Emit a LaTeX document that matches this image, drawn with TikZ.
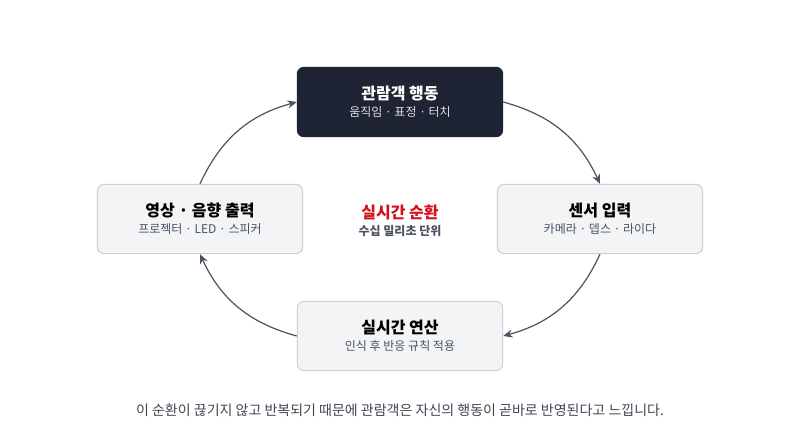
\documentclass[tikz,border=0pt]{standalone}
\usepackage{fontspec}
\setmainfont{Noto Sans CJK KR}
\usetikzlibrary{arrows.meta}
\definecolor{navy}{HTML}{1E2433}
\definecolor{panel}{HTML}{F3F4F6}
\definecolor{rim}{HTML}{CDD1D8}
\definecolor{pfeil}{HTML}{4B5262}
\definecolor{hot}{HTML}{D0101B}
\newcommand{\titel}{\fontsize{12}{14}\selectfont\bfseries}
\newcommand{\unter}{\fontsize{9}{11}\selectfont}
\begin{document}
\begin{tikzpicture}[x=0.75pt, y=-0.75pt
		, stufe/.style={rectangle, rounded corners=5pt, minimum width=154pt, minimum height=52pt, draw=rim, fill=panel, align=center, line width=0.8pt}
		, dunkel/.style={stufe, draw=navy, fill=navy, text=white}
		, pfeilspitze/.style={draw=pfeil, line width=0.9pt, -{Stealth[length=7pt,width=6pt]}}
		]
	\useasboundingbox (0,0) rectangle (800,443);
	\node (Aktion) [dunkel] at (400,102) {{\titel 관람객 행동}\\[1pt]{\unter\color{white!85!navy} 움직임 · 표정 · 터치}};
	\node (Eingang) [stufe] at (600,219) {{\titel 센서 입력}\\[1pt]{\unter\color{pfeil} 카메라 · 뎁스 · 라이다}};
	\node (Rechnen) [stufe] at (400,336) {{\titel 실시간 연산}\\[1pt]{\unter\color{pfeil} 인식 후 반응 규칙 적용}};
	\node (Ausgang) [stufe] at (200,219) {{\titel 영상 · 음향 출력}\\[1pt]{\unter\color{pfeil} 프로젝터 · LED · 스피커}};
	\node (Mitte) [align=center] at (400,221) {{\titel\color{hot} 실시간 순환}\\[1pt]{\unter\bfseries\color{pfeil} 수십 밀리초 단위}};
	\node (Fazit) [font=\fontsize{10.5}{12}\selectfont, text=navy!85] at (400,410) {이 순환이 끊기지 않고 반복되기 때문에 관람객은 자신의 행동이 곧바로 반영된다고 느낍니다.};

	\draw [pfeilspitze] (Aktion.east) to[bend left=25] (Eingang.north);
	\draw [pfeilspitze] (Eingang.south) to[bend left=25] (Rechnen.east);
	\draw [pfeilspitze] (Rechnen.west) to[bend left=25] (Ausgang.south);
	\draw [pfeilspitze] (Ausgang.north) to[bend left=25] (Aktion.west);
\end{tikzpicture}
\end{document}
